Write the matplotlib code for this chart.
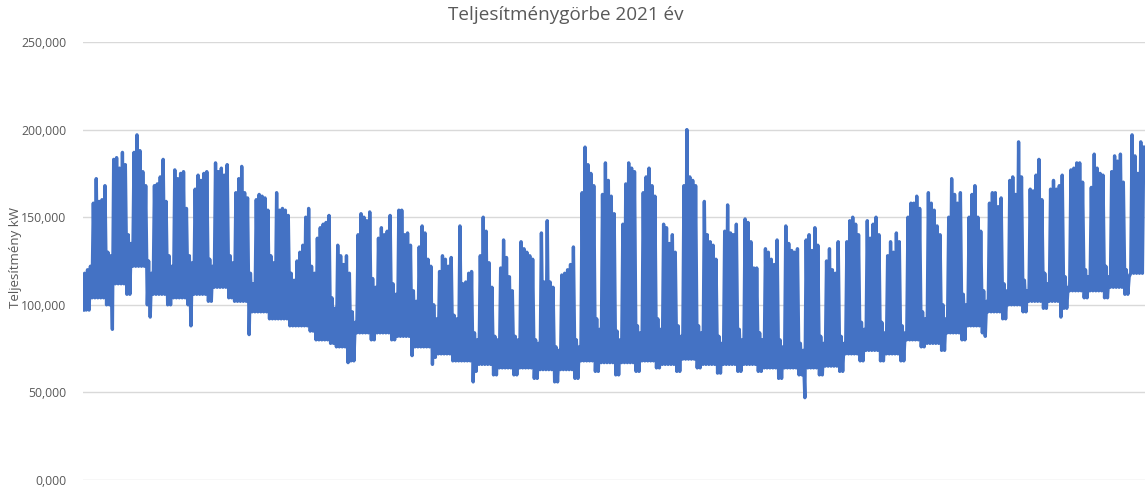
import matplotlib
matplotlib.use("Agg")
import matplotlib.pyplot as plt
from matplotlib.ticker import FuncFormatter

# ---- data (values in thousands of kW as shown on the axis) ----
# first three days of the year (Fri Jan 1 holiday, Sat, Sun)
jan_peaks = [118, 120, 122]
jan_low = 97

# weekly data, weeks start on Monday (Jan 4 2021 ...)
wk_peaks = [
    [158, 172, 159, 160, 168], [183, 184, 178, 187, 180], [187, 197, 188, 176, 168],
    [168, 169, 173, 183, 159], [177, 172, 175, 176, 155], [166, 174, 171, 175, 176],
    [181, 176, 178, 174, 180], [164, 172, 179, 164, 161], [160, 163, 162, 161, 154],
    [164, 154, 155, 154, 151], [125, 130, 134, 150, 155], [138, 144, 146, 147, 151],
    [134, 128, 123, 128, 118], [140, 152, 150, 148, 153], [138, 144, 140, 142, 151],
    [154, 154, 140, 141, 134], [133, 145, 141, 126, 122], [119, 128, 126, 122, 127],
    [145, 112, 113, 118, 119], [128, 150, 142, 124, 110], [121, 137, 127, 116, 108],
    [136, 132, 130, 128, 126], [141, 113, 148, 113, 110], [117, 118, 120, 123, 133],
    [164, 190, 180, 175, 168], [163, 181, 171, 162, 152], [146, 169, 181, 178, 176],
    [164, 173, 178, 168, 162], [146, 144, 135, 140, 130], [168, 200, 173, 171, 168],
    [159, 140, 136, 134, 126], [142, 157, 141, 140, 146], [149, 147, 136, 121, 121],
    [132, 130, 126, 123, 137], [145, 135, 131, 130, 132], [137, 140, 131, 144, 134],
    [125, 132, 120, 118, 136], [136, 148, 150, 146, 140], [148, 138, 146, 150, 140],
    [128, 136, 130, 141, 136], [150, 158, 158, 162, 155], [164, 158, 154, 145, 140],
    [150, 172, 163, 158, 164], [150, 163, 168, 150, 142], [158, 164, 164, 156, 161],
    [171, 173, 163, 193, 173], [166, 165, 174, 183, 160], [166, 171, 166, 168, 174],
    [177, 178, 181, 181, 170], [167, 186, 178, 175, 174], [176, 185, 182, 186, 170],
    [197, 185, 175, 193, 190],
]
wk_weekend = [
    [130, 128], [140, 135], [125, 118], [128, 122], [128, 124], [126, 122],
    [128, 124], [118, 112], [128, 124], [118, 114], [122, 118], [104, 98],
    [96, 90], [115, 110], [112, 106], [108, 102], [100, 92], [94, 92],
    [84, 80], [82, 80], [82, 80], [80, 78], [76, 74], [80, 76],
    [92, 86], [85, 80], [88, 84], [92, 86], [88, 82], [88, 84],
    [82, 78], [86, 80], [84, 80], [80, 76], [78, 74], [82, 78],
    [82, 78], [90, 86], [90, 84], [88, 84], [96, 92], [100, 92],
    [106, 100], [108, 102], [112, 108], [114, 108], [118, 112], [116, 110],
    [120, 116], [122, 116], [120, 116], [],
]
wk_low = [
    104, 112, 122, 106, 104, 106, 110, 102, 96, 92, 88, 80,
    76, 84, 84, 82, 76, 72, 68, 66, 64, 64, 63, 63,
    68, 67, 67, 68, 66, 69, 66, 66, 66, 64, 64, 64,
    65, 72, 74, 72, 80, 78, 84, 88, 96, 100, 102, 102,
    108, 108, 110, 118,
]
wk_weekend_low = [
    100, 106, 100, 100, 100, 102, 104, 96, 92, 88, 85, 78,
    68, 80, 80, 76, 70, 68, 62, 60, 60, 58, 56, 58,
    62, 60, 62, 64, 62, 64, 61, 62, 62, 58, 60, 60,
    62, 68, 68, 68, 76, 74, 80, 84, 92, 96, 98, 98,
    104, 104, 106, 112,
]
# isolated downward spikes: day of year (0 = Jan 1) and value
dip_days = [10, 23, 37, 57, 91, 113, 120, 134, 248, 310, 336]
dip_vals = [86, 93, 88, 83, 67, 71, 66, 56, 47, 82, 93]

title = "Teljesítménygörbe 2021 év"
ylabel = "Teljesítmény kW"
yticks = [0, 50, 100, 150, 200, 250]

# ---- assemble daily peak / low series from the read values ----
peaks = list(jan_peaks)
lows = [jan_low] * len(jan_peaks)
for w in range(len(wk_peaks)):
    peaks += wk_peaks[w]
    lows += [wk_low[w]] * len(wk_peaks[w])
    peaks += wk_weekend[w]
    lows += [wk_weekend_low[w]] * len(wk_weekend[w])
for d, v in zip(dip_days, dip_vals):
    lows[d] = v

xs, ys = [], []
for d in range(len(peaks)):
    xs += [d + 0.1, d + 0.55]
    ys += [lows[d], peaks[d]]

# ---- figure ----
W, H = 1145, 490
fig = plt.figure(figsize=(W / 100, H / 100), dpi=100)
ax = fig.add_axes([83 / W, (H - 480) / H, (W - 83) / W, (480 - 42) / H])

ax.plot(xs, ys, color="#4472C4", lw=2.4, solid_joinstyle="round", zorder=3)

ax.set_xlim(0, 365)
ax.set_ylim(0, 250)
ax.set_yticks(yticks)
ax.yaxis.set_major_formatter(FuncFormatter(lambda v, p: f"{v:.3f}".replace(".", ",")))
ax.set_xticks([])
ax.grid(axis="y", color="#d9d9d9", lw=1.0, zorder=0)
for s in ax.spines.values():
    s.set_visible(False)
ax.tick_params(axis="y", length=0, pad=12, labelsize=8.8, labelcolor="#595959")
for lab in ax.get_yticklabels():
    lab.set_fontfamily("Open Sans")

fig.text(566 / W, 1 - 15 / H, title, ha="center", va="center", fontsize=13.6,
         color="#595959", family="Open Sans")
fig.text(16 / W, 1 - 258 / H, ylabel, ha="center", va="center", rotation=90,
         fontsize=9.5, color="#595959", family="Open Sans")

fig.savefig("out.png", dpi=100, facecolor="white")
